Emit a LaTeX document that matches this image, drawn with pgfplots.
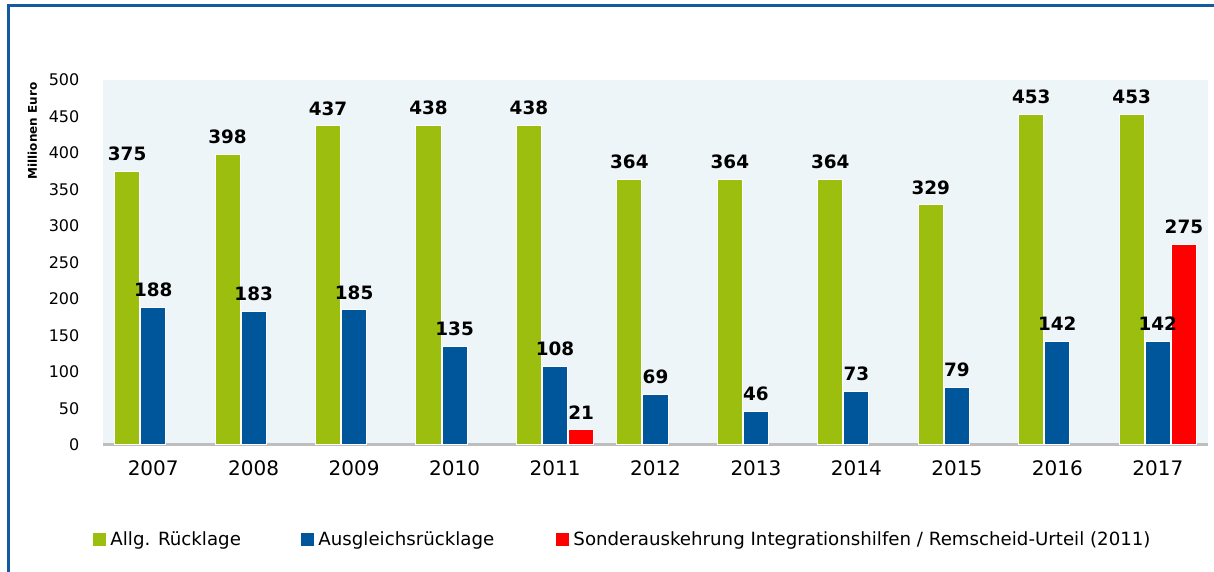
\documentclass[border=0pt]{standalone}
\usepackage{fontspec}
\setmainfont{DejaVu Sans}
\usepackage{pgfplots}
\pgfplotsset{compat=1.18}

\definecolor{gruen}{RGB}{155,190,15}
\definecolor{blau}{RGB}{0,86,155}
\definecolor{rot}{RGB}{255,0,0}
\definecolor{hinter}{RGB}{238,245,248}
\definecolor{rahmen}{RGB}{20,90,160}
\definecolor{achse}{RGB}{190,190,190}

\begin{document}
\begin{tikzpicture}[x=1pt,y=1pt]
\useasboundingbox (0,0) rectangle (607,286);
\draw[rahmen, line width=1.5pt] (4,0) -- (4,283) -- (607,283);
\begin{axis}[
  at={(51.5pt,63.5pt)}, anchor=south west,
  scale only axis, width=552.5pt, height=182.5pt,
  ymin=0, ymax=500, ytick={0,50,...,500},
  xmin=-0.5, xmax=10.5, xtick={0,...,10},
  xticklabels={2007,2008,2009,2010,2011,2012,2013,2014,2015,2016,2017},
  axis background/.style={fill=hinter},
  axis x line*=bottom, axis y line*=left,
  x axis line style={draw=achse, line width=1.5pt, -},
  y axis line style={draw=none},
  major tick length=0pt,
  /pgf/number format/assume math mode=true,
  yticklabel style={font=\fontsize{8}{9}\selectfont, xshift=-8.3pt},
  xticklabel style={font=\fontsize{10}{12}\selectfont, yshift=-4.2pt},
  ylabel={Millionen Euro},
  ylabel style={font=\fontsize{6}{7}\bfseries, at={(rel axis cs:-0.064,0.86)}, anchor=center, rotate=0},
  ybar, bar width=0.25,
  nodes near coords,
  every node near coord/.append style={font=\fontsize{9.2}{10}\bfseries, black, inner sep=2pt, yshift=3pt},
  legend style={at={(-0.009,-0.26)}, anchor=west, draw=none, fill=none,
    legend columns=3, inner sep=0pt, font=\fontsize{9.1}{11}\selectfont},
  legend cell align=left,
]
\addplot[fill=gruen, draw=white, line width=0.5pt, bar shift=-0.26,
  legend image code/.code={\fill[gruen] (0pt,-3pt) rectangle (6pt,3pt);}]
  coordinates {(0,375) (1,398) (2,437) (3,438) (4,438) (5,364) (6,364) (7,364) (8,329) (9,453) (10,453)};
\addlegendentry{\makebox[93.5pt][l]{Allg. Rücklage}}
\addplot[fill=blau, draw=white, line width=0.5pt, bar shift=0,
  legend image code/.code={\fill[blau] (0pt,-3pt) rectangle (6pt,3pt);}]
  coordinates {(0,188) (1,183) (2,185) (3,135) (4,108) (5,69) (6,46) (7,73) (8,79) (9,142) (10,142)};
\addlegendentry{\makebox[117pt][l]{Ausgleichsrücklage}}
\addplot[fill=rot, draw=white, line width=0.5pt, bar shift=0.26,
  legend image code/.code={\fill[rot] (0pt,-3pt) rectangle (6pt,3pt);}]
  coordinates {(4,21) (10,275)};
\addlegendentry{Sonderauskehrung Integrationshilfen / Remscheid-Urteil (2011)}
\end{axis}
\end{tikzpicture}
\end{document}
